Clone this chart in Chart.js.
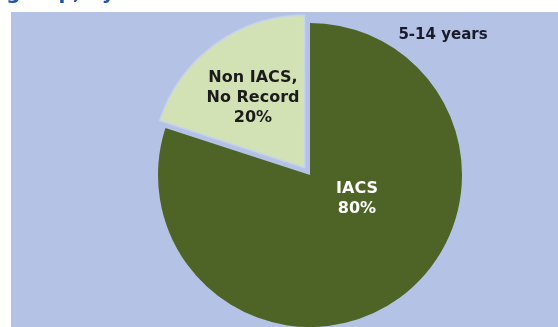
<!DOCTYPE html>
<html>
<head>
<meta charset="utf-8">
<script src="https://cdn.jsdelivr.net/npm/chart.js@4/dist/chart.umd.min.js"></script>
<style>
  html, body { margin: 0; padding: 0; background: #fff; }
  #wrap { width: 558px; height: 327px; position: relative; }
</style>
</head>
<body>
<div id="wrap"><canvas id="cv" width="558" height="327"></canvas></div>
<script>
// IACS status, 5-14 years
const categories = ["IACS", "Non IACS, No Record"];
const shares = [80, 20];
const sliceLabels = [["IACS", "80%"], ["Non IACS,", "No Record", "20%"]];
const panelTitle = "5-14 years";
const headTitle = "Age group, by sex";

const DARK = "#4e6326", LIGHT = "#d2e2b4", PANEL = "#b4c3e5";

// panel background + the clipped heading above it
const backdrop = {
  id: "backdrop",
  beforeDraw(chart) {
    const c = chart.ctx;
    c.save();
    c.fillStyle = "#fff";
    c.fillRect(0, 0, chart.width, chart.height);
    c.fillStyle = PANEL;
    c.fillRect(11, 12, chart.width - 11, chart.height - 12);
    c.fillStyle = "#1f56a3";
    c.font = "bold 20px 'DejaVu Sans'";
    c.textAlign = "right";
    c.textBaseline = "alphabetic";
    c.fillText(headTitle, 160, -1);
    c.restore();
  }
};

// in-slice labels and the age-band caption
const labelsPlugin = {
  id: "sliceText",
  afterDraw(chart) {
    const c = chart.ctx;
    c.save();
    c.textAlign = "center";
    c.textBaseline = "middle";
    c.font = "bold 16px 'DejaVu Sans'";
    const pos = [[357, 199], [253, 98]];
    const ink = ["#ffffff", "#1b1b1b"];
    sliceLabels.forEach((lines, i) => {
      c.fillStyle = ink[i];
      const lh = 20, y0 = pos[i][1] - (lines.length - 1) * lh / 2;
      lines.forEach((t, j) => c.fillText(t, pos[i][0], y0 + j * lh));
    });
    c.fillStyle = "#1a1a2a";
    c.font = "bold 15px 'DejaVu Sans'";
    c.fillText(panelTitle, 443, 35);
    c.restore();
  }
};

new Chart(document.getElementById("cv"), {
  type: "pie",
  data: {
    labels: categories,
    datasets: [{
      data: shares,
      backgroundColor: [DARK, LIGHT],
      borderColor: [DARK, "#c6d3ec"],
      borderWidth: [0, 1.5],
      offset: [0, 36],
      radius: 152
    }]
  },
  options: {
    responsive: false,
    animation: false,
    layout: { padding: { left: 135, right: 73, top: 23, bottom: 0 } },
    plugins: { legend: { display: false }, tooltip: { enabled: false } }
  },
  plugins: [backdrop, labelsPlugin]
});
</script>
</body>
</html>
